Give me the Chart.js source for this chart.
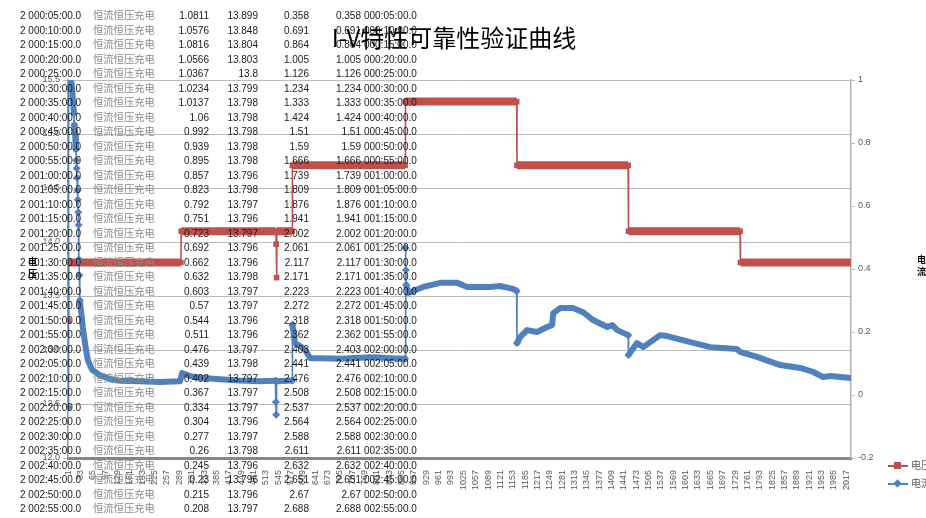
<!DOCTYPE html>
<html>
<head>
<meta charset="utf-8">
<script src="https://cdn.jsdelivr.net/npm/chart.js@4.4.0/dist/chart.umd.min.js"></script>
<style>
  html, body { margin:0; padding:0; background:#fff; }
  body { width:926px; height:518px; overflow:hidden; position:relative; }
  #wrap { position:absolute; left:0; top:0; width:926px; height:518px; }
  #sheet { position:absolute; left:0; top:0; width:926px; height:518px; pointer-events:none; }
  .c { position:absolute; white-space:nowrap; font-family:"Liberation Sans", Arial, sans-serif; font-size:10px; line-height:14px; color:#1a1a1a; }
  .m { font-family:"Noto Sans CJK SC", sans-serif; font-size:10.3px; color:#8a8a8a; }
  .r { text-align:right; }
  .ax { position:absolute; font-family:"Noto Sans CJK SC", sans-serif; font-weight:bold; font-size:9px; line-height:12px; color:#000; }
  .lg { position:absolute; font-family:"Noto Sans CJK SC", sans-serif; font-size:10px; line-height:12px; color:#595959; white-space:nowrap; }
</style>
</head>
<body>
<div id="wrap"><canvas id="c" width="926" height="518"></canvas></div>
<div id="sheet"></div>
<div class="ax" style="left:28px; top:256px;">电<br>压</div>
<div class="ax" style="left:917px; top:254px;">电<br>流</div>
<div id="legend"></div>
<script>
// ---------- spreadsheet behind the chart ----------
const tableTimes = ["000:05:00.0","000:10:00.0","000:15:00.0","000:20:00.0","000:25:00.0","000:30:00.0","000:35:00.0","000:40:00.0","000:45:00.0","000:50:00.0","000:55:00.0","001:00:00.0","001:05:00.0","001:10:00.0","001:15:00.0","001:20:00.0","001:25:00.0","001:30:00.0","001:35:00.0","001:40:00.0","001:45:00.0","001:50:00.0","001:55:00.0","002:00:00.0","002:05:00.0","002:10:00.0","002:15:00.0","002:20:00.0","002:25:00.0","002:30:00.0","002:35:00.0","002:40:00.0","002:45:00.0","002:50:00.0","002:55:00.0"];
const tableMode = "恒流恒压充电";
const tableColC = [1.0811,1.0576,1.0816,1.0566,1.0367,1.0234,1.0137,1.06,0.992,0.939,0.895,0.857,0.823,0.792,0.751,0.723,0.692,0.662,0.632,0.603,0.57,0.544,0.511,0.476,0.439,0.402,0.367,0.334,0.304,0.277,0.26,0.245,0.23,0.215,0.208];
const tableColD = [13.899,13.848,13.804,13.803,13.8,13.799,13.798,13.798,13.798,13.798,13.798,13.796,13.798,13.797,13.796,13.797,13.796,13.796,13.798,13.797,13.797,13.796,13.796,13.797,13.798,13.797,13.797,13.797,13.796,13.797,13.798,13.796,13.796,13.796,13.797];
const tableColE = [0.358,0.691,0.864,1.005,1.126,1.234,1.333,1.424,1.51,1.59,1.666,1.739,1.809,1.876,1.941,2.002,2.061,2.117,2.171,2.223,2.272,2.318,2.362,2.403,2.441,2.476,2.508,2.537,2.564,2.588,2.611,2.632,2.651,2.67,2.688];

// ---------- chart data ----------
const chartTitle = "I-V特性可靠性验证曲线";
const seriesNames = ["电压", "电流"];
const tickLabels = [1,33,65,97,129,161,193,225,257,289,321,353,385,417,449,481,513,545,577,609,641,673,705,737,769,801,833,865,897,929,961,993,1025,1057,1089,1121,1153,1185,1217,1249,1281,1313,1345,1377,1409,1441,1473,1505,1537,1569,1601,1633,1665,1697,1729,1761,1793,1825,1857,1889,1921,1953,1985,2017];

// voltage (left axis), sample index -> value
const voltageIdx = [1,2,293,294,539,540,541,542,581,582,874,875,1163,1164,1452,1453,1742,1743,2029];
const voltageVal = [13.27,13.81,13.81,14.10,14.10,13.98,13.67,14.10,14.10,14.71,14.71,15.30,15.30,14.71,14.71,14.10,14.10,13.81,13.81];

// current (right axis), sample index -> value
const currentIdx = [1,2,10,13,16,17,19,21,22,23,24,25,26,27,28,29,30,31,36,39,45,52,63,83,109,135,187,239,291,296,317,343,394,446,498,538,539,540,541,581,582,589,602,615,628,654,706,757,796,835,874,875,876,877,882,921,965,1009,1035,1094,1120,1154,1163,1164,1172,1190,1216,1242,1255,1258,1276,1309,1335,1361,1398,1411,1424,1452,1453,1475,1491,1535,1553,1613,1665,1734,1742,1786,1846,1898,1932,1957,1976,2029];
const currentVal = [-0.04,1.0,0.99,0.94,0.895,0.857,0.825,0.78,0.745,0.72,0.69,0.65,0.62,0.58,0.54,0.43,0.38,0.30,0.25,0.215,0.16,0.11,0.08,0.063,0.051,0.045,0.044,0.041,0.044,0.07,0.06,0.055,0.05,0.046,0.044,0.045,-0.022,-0.063,0.044,0.046,0.222,0.165,0.155,0.143,0.117,0.117,0.115,0.118,0.12,0.117,0.115,0.467,0.397,0.349,0.324,0.343,0.356,0.356,0.343,0.343,0.346,0.337,0.330,0.165,0.184,0.206,0.2,0.216,0.222,0.26,0.276,0.276,0.263,0.238,0.216,0.222,0.206,0.19,0.127,0.165,0.152,0.19,0.187,0.168,0.152,0.146,0.137,0.121,0.095,0.086,0.073,0.057,0.060,0.054];

// ---------- build the sheet ----------
(function(){
  const sheet = document.getElementById('sheet');
  let html = '';
  for (let i = 0; i < tableTimes.length; i++) {
    const top = 9 + 14.5 * i;
    html += `<span class="c" style="left:20px;top:${top}px">2 ${tableTimes[i]}</span>`;
    html += `<span class="c m" style="left:93px;top:${top-1}px">${tableMode}</span>`;
    html += `<span class="c r" style="left:150px;width:59px;top:${top}px">${tableColC[i]}</span>`;
    html += `<span class="c r" style="left:200px;width:58px;top:${top}px">${tableColD[i]}</span>`;
    html += `<span class="c r" style="left:250px;width:59px;top:${top}px">${tableColE[i]}</span>`;
    html += `<span class="c r" style="left:300px;width:61px;top:${top}px">${tableColE[i]}</span>`;
    html += `<span class="c" style="left:364px;top:${top}px">${tableTimes[i]}</span>`;
  }
  sheet.innerHTML = html;
})();

// ---------- legend ----------
const RED = '#C0504D', BLUE = '#4F81BD';
(function(){
  const lg = document.getElementById('legend');
  lg.innerHTML =
    `<div style="position:absolute;left:888px;top:465px;width:20px;height:2px;background:${RED}"></div>
     <div style="position:absolute;left:894px;top:462px;width:7px;height:7px;background:${RED}"></div>
     <div class="lg" style="left:911px;top:459px">${seriesNames[0]}</div>
     <div style="position:absolute;left:888px;top:483px;width:20px;height:2px;background:${BLUE}"></div>
     <div style="position:absolute;left:894px;top:480px;width:7px;height:7px;background:${BLUE};transform:rotate(45deg) scale(0.85)"></div>
     <div class="lg" style="left:911px;top:477px">${seriesNames[1]}</div>`;
})();

// ---------- chart ----------
const toPts = (xs, ys) => xs.map((x, i) => ({ x: x, y: ys[i] }));
const isJumpPoint = (data, i) =>
  (i > 0 && data[i].x - data[i-1].x <= 1.5) || (i < data.length - 1 && data[i+1].x - data[i].x <= 1.5);
const segWidth = (thick) => (ctx) => (ctx.p1.parsed.x - ctx.p0.parsed.x <= 1.5 ? 1.6 : thick);
const fmt1 = (v) => String(Math.round(v * 10) / 10 || 0);

const voltageData = toPts(voltageIdx, voltageVal);
const currentData = toPts(currentIdx, currentVal);

new Chart(document.getElementById('c'), {
  type: 'line',
  data: {
    datasets: [
      {
        label: seriesNames[0],
        data: voltageData,
        yAxisID: 'y',
        borderColor: RED,
        backgroundColor: RED,
        borderWidth: 8,
        borderCapStyle: 'butt',
        pointStyle: 'rect',
        pointRadius: (ctx) => (isJumpPoint(voltageData, ctx.dataIndex) ? 4 : 0),
        pointBorderWidth: 0,
        segment: { borderWidth: segWidth(8) },
        tension: 0,
        order: 2
      },
      {
        label: seriesNames[1],
        data: currentData,
        yAxisID: 'y1',
        borderColor: BLUE,
        backgroundColor: BLUE,
        borderWidth: 6,
        borderCapStyle: 'round',
        borderJoinStyle: 'round',
        pointStyle: 'rectRot',
        pointRadius: (ctx) => (isJumpPoint(currentData, ctx.dataIndex) ? 4 : 0),
        pointBorderWidth: 0,
        segment: { borderWidth: segWidth(6) },
        tension: 0,
        order: 1
      }
    ]
  },
  options: {
    responsive: false,
    animation: false,
    events: [],
    layout: { padding: { left: 0, right: 18, top: 0, bottom: 0 } },
    plugins: {
      legend: { display: false },
      tooltip: { enabled: false },
      title: {
        display: true,
        text: chartTitle,
        color: '#000',
        font: { family: '"Noto Sans CJK SC", sans-serif', size: 24, weight: 'normal', lineHeight: 1.2 },
        padding: { top: 23, bottom: 28.2 }
      }
    },
    scales: {
      x: {
        type: 'linear',
        min: 0.5,
        max: 2029.5,
        afterBuildTicks: (axis) => { axis.ticks = tickLabels.map(v => ({ value: v })); },
        ticks: {
          autoSkip: false,
          maxRotation: 90,
          minRotation: 90,
          padding: 4,
          color: '#595959',
          font: { family: '"Liberation Sans", Arial, sans-serif', size: 9 },
          callback: (v) => String(v)
        },
        grid: { display: false },
        border: { display: true, color: '#868686', width: 3 },
        afterFit: (s) => { s.height = 60; }
      },
      y: {
        position: 'left',
        min: 12,
        max: 15.5,
        ticks: {
          stepSize: 0.5,
          padding: 3,
          color: '#595959',
          font: { family: '"Liberation Sans", Arial, sans-serif', size: 9 }
        },
        grid: { color: '#bcbcbc', lineWidth: 1, tickLength: 5 },
        border: { color: '#9a9a9a', width: 1.5 },
        afterFit: (s) => { s.width = 68; }
      },
      y1: {
        position: 'right',
        min: -0.2,
        max: 1,
        ticks: {
          stepSize: 0.2,
          padding: 3,
          color: '#595959',
          font: { family: '"Liberation Sans", Arial, sans-serif', size: 9 },
          callback: (v) => fmt1(v)
        },
        grid: { drawOnChartArea: false, color: '#bcbcbc', tickLength: 4 },
        border: { color: '#b0b0b0', width: 1.5 },
        afterFit: (s) => { s.width = 57; }
      }
    }
  }
});
</script>
</body>
</html>
